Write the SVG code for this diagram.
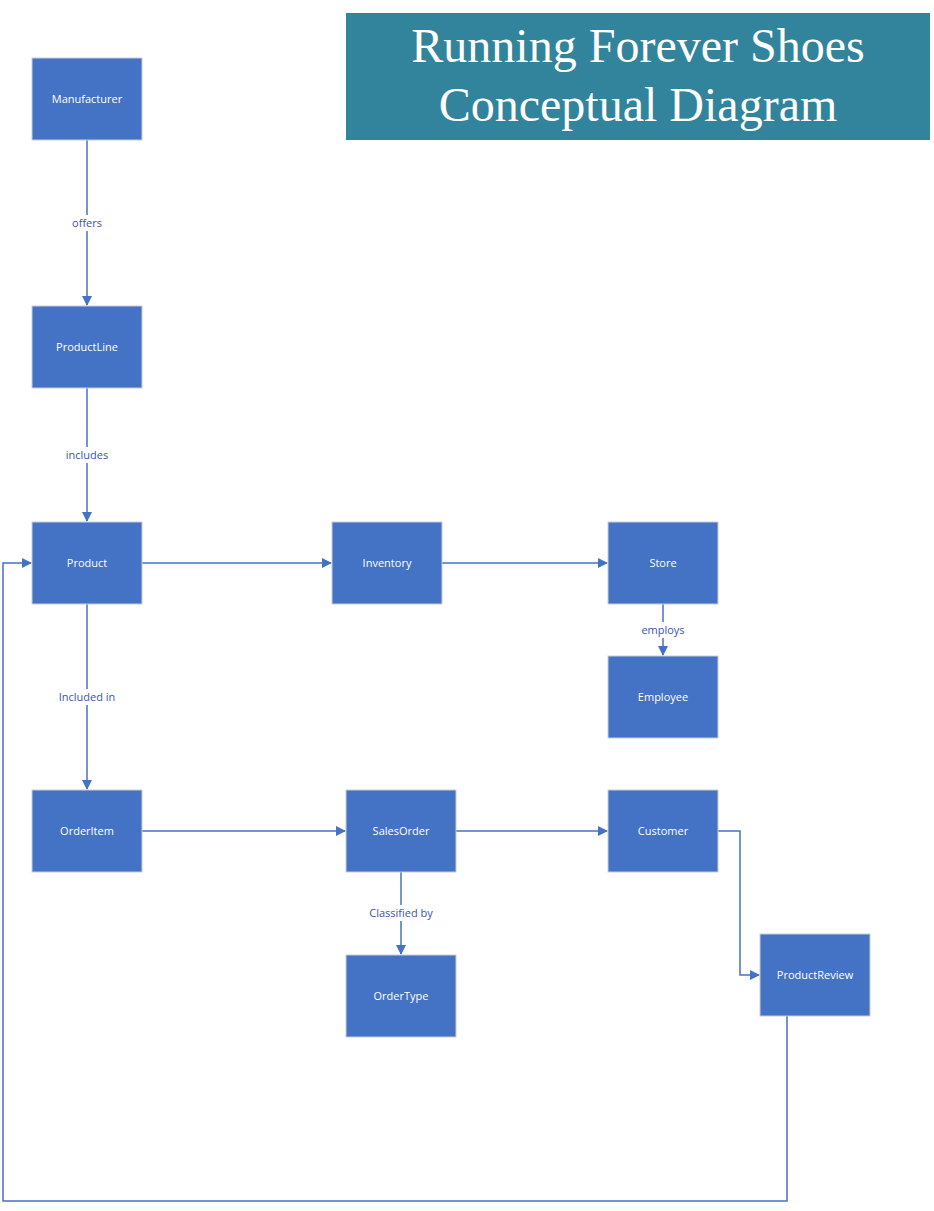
<svg xmlns="http://www.w3.org/2000/svg" width="934" height="1211" viewBox="0 0 934 1211">
<style>
.n rect{fill:#4472C4;stroke:#C9CED6;stroke-width:1}
.n text{fill:#fff;font-family:"Open Sans","DejaVu Sans",sans-serif;font-size:11px;text-anchor:middle}
.c path{fill:none;stroke:#4472C4;stroke-width:1.5}
.lbl{fill:#3B55A8;font-family:"Open Sans","DejaVu Sans",sans-serif;font-size:11px;text-anchor:middle}
.bg{fill:#fff}
</style>
<defs><marker id="a" markerWidth="10" markerHeight="10" refX="9" refY="5" orient="auto" markerUnits="userSpaceOnUse"><path d="M0,0 L10,5 L0,10 Z" fill="#4472C4"/></marker></defs>
<rect width="934" height="1211" fill="#fff"/>
<g id="title"><rect x="346" y="13" width="584" height="127" fill="#31849B"/>
<text x="638" y="62" fill="#fff" font-family="Liberation Serif,serif" font-size="48" text-anchor="middle">Running Forever Shoes</text>
<text x="638" y="121" fill="#fff" font-family="Liberation Serif,serif" font-size="48" text-anchor="middle">Conceptual Diagram</text></g>
<g class="c">
<path d="M87,140 V305" marker-end="url(#a)"/>
<path d="M87,388 V521" marker-end="url(#a)"/>
<path d="M142,563 H331" marker-end="url(#a)"/>
<path d="M442,563 H607" marker-end="url(#a)"/>
<path d="M663,604 V655" marker-end="url(#a)"/>
<path d="M87,604 V789" marker-end="url(#a)"/>
<path d="M142,831 H345" marker-end="url(#a)"/>
<path d="M456,831 H607" marker-end="url(#a)"/>
<path d="M401,872 V954" marker-end="url(#a)"/>
<path d="M718,831 H740 V975 H759" marker-end="url(#a)"/>
<path d="M787,1016 V1201 H3 V563 H31" marker-end="url(#a)"/>
<rect class="bg" x="67" y="215" width="40" height="16"/><text class="lbl" x="87" y="227">offers</text>
<rect class="bg" x="62" y="447" width="50" height="16"/><text class="lbl" x="87" y="459">includes</text>
<rect class="bg" x="55" y="689" width="64" height="16"/><text class="lbl" x="87" y="701">Included in</text>
<rect class="bg" x="638" y="622" width="50" height="16"/><text class="lbl" x="663" y="634">employs</text>
<rect class="bg" x="364" y="905" width="74" height="16"/><text class="lbl" x="401" y="917">Classified by</text>
</g>
<g id="Manufacturer" class="n"><rect x="32" y="58" width="110" height="82"/><text x="87" y="103">Manufacturer</text></g>
<g id="ProductLine" class="n"><rect x="32" y="306" width="110" height="82"/><text x="87" y="351">ProductLine</text></g>
<g id="Product" class="n"><rect x="32" y="522" width="110" height="82"/><text x="87" y="567">Product</text></g>
<g id="Inventory" class="n"><rect x="332" y="522" width="110" height="82"/><text x="387" y="567">Inventory</text></g>
<g id="Store" class="n"><rect x="608" y="522" width="110" height="82"/><text x="663" y="567">Store</text></g>
<g id="Employee" class="n"><rect x="608" y="656" width="110" height="82"/><text x="663" y="701">Employee</text></g>
<g id="OrderItem" class="n"><rect x="32" y="790" width="110" height="82"/><text x="87" y="835">OrderItem</text></g>
<g id="SalesOrder" class="n"><rect x="346" y="790" width="110" height="82"/><text x="401" y="835">SalesOrder</text></g>
<g id="Customer" class="n"><rect x="608" y="790" width="110" height="82"/><text x="663" y="835">Customer</text></g>
<g id="OrderType" class="n"><rect x="346" y="955" width="110" height="82"/><text x="401" y="1000">OrderType</text></g>
<g id="ProductReview" class="n"><rect x="760" y="934" width="110" height="82"/><text x="815" y="979">ProductReview</text></g>
</svg>
